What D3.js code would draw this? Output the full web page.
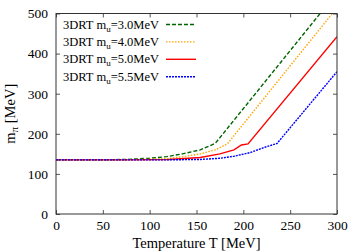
<!DOCTYPE html>
<html><head><meta charset="utf-8">
<script src="https://cdn.jsdelivr.net/npm/d3@7"></script>
<style>body{margin:0;background:#fff}svg{display:block}</style>
</head><body>
<script>
const xTicks = [0,50,100,150,200,250,300];
const yTicks = [0,100,200,300,400,500];
const labels = ["3.0","4.0","5.0","5.5"];
const colors = ["#006400","#ffa500","#ff0000","#0000ff"];
const dashes = ["4,2","1.5,1.5",null,"2,1"];
const s30 = [[0,135],[50,135],[75,136],[100,139],[118,143],[135,150],[154,160],[170,176],[282,500]];
const s40 = [[0,135],[60,135],[90,136],[118,138],[136,143],[154,150],[170,160],[183,175],[295,500]];
const s50 = [[0,135],[80,135],[120,136],[154,141],[175,150],[190,160],[198,172],[205,175],[300,442]];
const s55 = [[0,135],[120,135],[154,136],[175,139],[190,144],[207,153],[225,168],[236,176],[300,355]];
const series = [s30,s40,s50,s55];

const W=358,H=251, L=56, R=337, T=13.5, B=214;
const svg=d3.select("body").append("svg").attr("width",W).attr("height",H)
  .style("font-family","'Liberation Serif','Times New Roman',serif");
const x=d3.scaleLinear().domain([0,300]).range([L,R]);
const y=d3.scaleLinear().domain([0,500]).range([B,T]);

svg.append("defs").append("clipPath").attr("id","c").append("rect")
  .attr("x",L).attr("y",T).attr("width",R-L).attr("height",B-T);

const line=d3.line().x(d=>x(d[0])).y(d=>y(d[1]));
series.forEach((s,i)=>{
  svg.append("path").datum(s).attr("d",line).attr("clip-path","url(#c)")
    .attr("fill","none").attr("stroke",colors[i]).attr("stroke-width",1.4)
    .attr("stroke-dasharray",dashes[i]);
});

const fs="13.5px";
const ax=svg.append("g").attr("transform",`translate(0,${B})`)
  .call(d3.axisBottom(x).tickValues(xTicks).tickSize(-4).tickPadding(6));
const ay=svg.append("g").attr("transform",`translate(${L},0)`)
  .call(d3.axisLeft(y).tickValues(yTicks).tickSize(-4).tickPadding(8));
const at=svg.append("g").attr("transform",`translate(0,${T})`)
  .call(d3.axisTop(x).tickValues(xTicks).tickSize(-4).tickFormat(""));
const ar=svg.append("g").attr("transform",`translate(${R},0)`)
  .call(d3.axisRight(y).tickValues(yTicks).tickSize(-4).tickFormat(""));
[ax,ay,at,ar].forEach(g=>{
  g.select(".domain").remove();
  g.selectAll("line").attr("stroke","#555");
  g.selectAll("text").attr("font-family","'Liberation Serif','Times New Roman',serif")
    .attr("font-size",fs).attr("fill","#000");
});
svg.append("rect").attr("x",L).attr("y",T).attr("width",R-L).attr("height",B-T)
  .attr("fill","none").attr("stroke","#333").attr("stroke-width",1);

// legend
const ly0=24.5, ldy=17.4;
labels.forEach((lab,i)=>{
  const yy=ly0+i*ldy;
  const t=svg.append("text").attr("x",63).attr("y",yy+4).attr("font-size","12.5px").attr("fill","#000");
  t.append("tspan").text("3DRT m");
  t.append("tspan").attr("font-size","9px").attr("dy",3).text("u");
  t.append("tspan").attr("dy",-3).text("="+lab+"MeV");
  svg.append("line").attr("x1",166).attr("x2",196).attr("y1",yy).attr("y2",yy)
    .attr("stroke",colors[i]).attr("stroke-width",1.4).attr("stroke-dasharray",dashes[i]);
});

svg.append("text").attr("x",(L+R)/2).attr("y",248).attr("text-anchor","middle")
  .attr("font-size","14.5px").text("Temperature T [MeV]");
const yl=svg.append("text").attr("transform",`translate(15,${(T+B)/2}) rotate(-90)`)
  .attr("text-anchor","middle").attr("font-size","14.5px");
yl.append("tspan").text("m");
yl.append("tspan").attr("font-size","11px").attr("dy",3).text("π");
yl.append("tspan").attr("dy",-3).text(" [MeV]");
</script>
</body></html>
